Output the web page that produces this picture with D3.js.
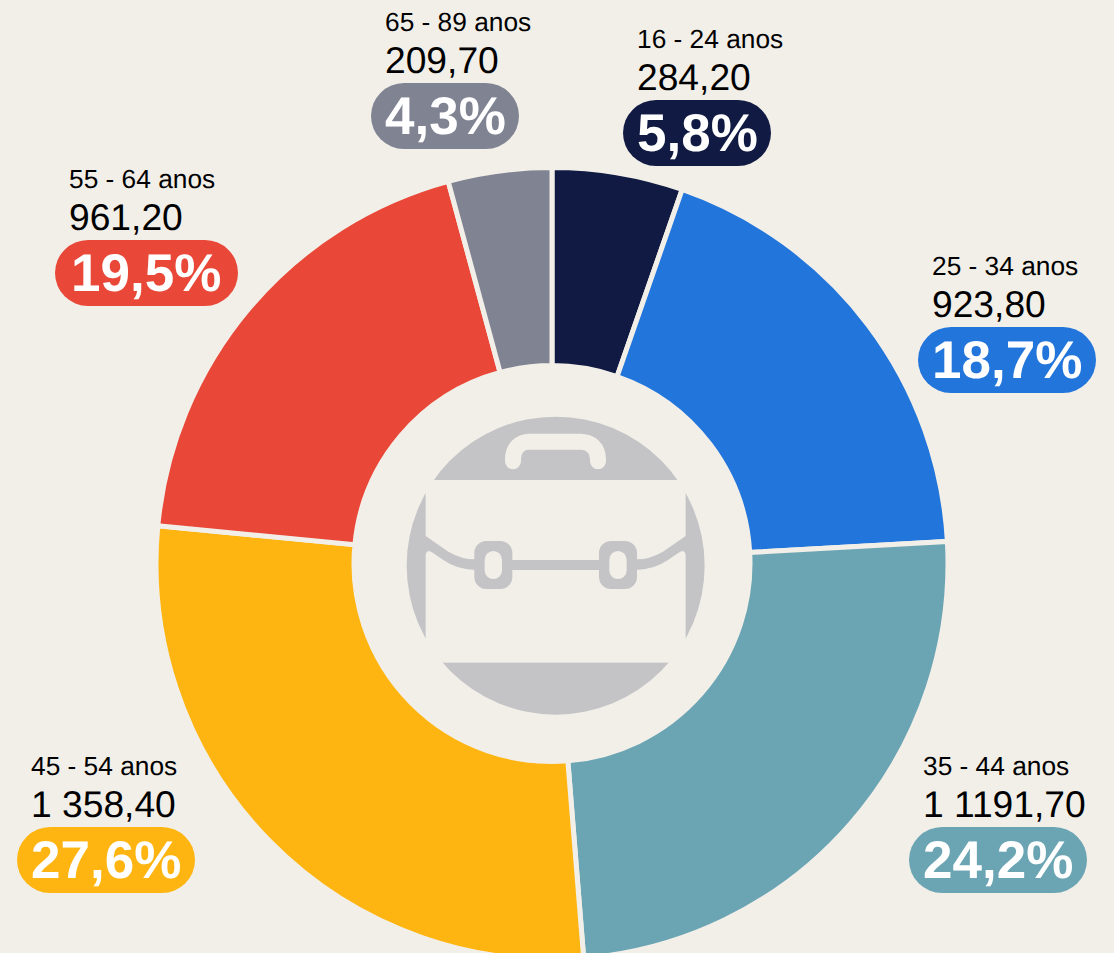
<!DOCTYPE html>
<html lang="pt"><head><meta charset="utf-8">
<script src="https://cdn.jsdelivr.net/npm/d3@7"></script>
<style>html,body{margin:0;padding:0;background:#f2efe9;overflow:hidden}svg{display:block}text{font-family:"Liberation Sans",Arial,sans-serif;text-rendering:geometricPrecision}</style>
</head><body><svg id="c" width="1114" height="953"></svg>
<script>
const categories=["16 - 24 anos","25 - 34 anos","35 - 44 anos","45 - 54 anos","55 - 64 anos","65 - 89 anos"];
const sliceShares=[5.33,18.78,24.61,27.79,19.26,4.22];
const valueLabels=["284,20","923,80","1 1191,70","1 358,40","961,20","209,70"];
const percentLabels=["5,8%","18,7%","24,2%","27,6%","19,5%","4,3%"];
const colors=["#101a43","#2275db","#6ba5b4","#ffb511","#e94737","#808392"];
const pillLeft=[623,918,909,17,55,371];
const pillTop=[100,327,827,827,240,83];
const pillWidth=[148,178,178,178,183,148];
const bg="#f2efe9", iconGrey="#c4c4c7";

const svg=d3.select("#c");
const cx=552,cy=563.5,inner=198,outer=396;
const rows=sliceShares.map((v,i)=>({v,i}));
const pie=d3.pie().sort(null).value(d=>d.v);
const arc=d3.arc().innerRadius(inner).outerRadius(outer);
svg.append("g").attr("transform",`translate(${cx},${cy})`)
 .selectAll("path").data(pie(rows)).join("path")
 .attr("d",arc).attr("fill",d=>colors[d.data.i]).attr("stroke",bg).attr("stroke-width",5);

// briefcase icon
const ic=svg.append("g").attr("transform","translate(390,400) scale(0.3333)");
ic.append("circle").attr("cx",497).attr("cy",497).attr("r",447).attr("fill",iconGrey);
ic.append("rect").attr("x",107).attr("y",240).attr("width",780).attr("height",548).attr("fill",bg);
ic.append("rect").attr("x",40).attr("y",240).attr("width",67).attr("height",38).attr("fill",bg);
ic.append("rect").attr("x",887).attr("y",240).attr("width",67).attr("height",38).attr("fill",bg);
ic.append("rect").attr("x",40).attr("y",716).attr("width",67).attr("height",72).attr("fill",bg);
ic.append("rect").attr("x",887).attr("y",716).attr("width",67).attr("height",72).attr("fill",bg);
ic.append("path").attr("d","M369,184V178C369,145 390,125 418,125H570C604,125 624,145 624,178V184")
 .attr("fill","none").attr("stroke",bg).attr("stroke-width",48).attr("stroke-linecap","round");
const strap="M100,403L107,408L175,455Q215,478 255,478V510Q200,508 160,480L128,458Q112,447 107,462L100,470Z";
ic.append("path").attr("d",strap).attr("fill",iconGrey);
ic.append("path").attr("d",strap).attr("fill",iconGrey).attr("transform","translate(994,0) scale(-1,1)");
ic.append("rect").attr("x",360).attr("y",480).attr("width",274).attr("height",30).attr("fill",iconGrey);
[253,627].forEach(x=>{
 ic.append("rect").attr("x",x).attr("y",423).attr("width",114).attr("height",144).attr("rx",36).attr("fill",iconGrey);
 ic.append("rect").attr("x",x+31).attr("y",453).attr("width",52).attr("height",84).attr("rx",26).attr("fill",bg);
});

// labels
const g=svg.selectAll("g.l").data(rows).join("g").attr("class","l")
 .attr("transform",d=>`translate(${pillLeft[d.i]},${pillTop[d.i]})`);
g.append("rect").attr("height",66).attr("rx",33).attr("fill",d=>colors[d.i]).attr("width",d=>pillWidth[d.i]);
g.append("text").attr("x",14).attr("y",-52.5).attr("font-size",26.3).attr("fill","#000").text(d=>categories[d.i]);
g.append("text").attr("x",14).attr("y",-10.5).attr("font-size",37.2).attr("fill","#000").text(d=>valueLabels[d.i]);
g.append("text").attr("x",d=>pillWidth[d.i]===183?16:14).attr("y",51).attr("font-size",53).attr("font-weight",700).attr("fill","#fff").text(d=>percentLabels[d.i]);
</script></body></html>
